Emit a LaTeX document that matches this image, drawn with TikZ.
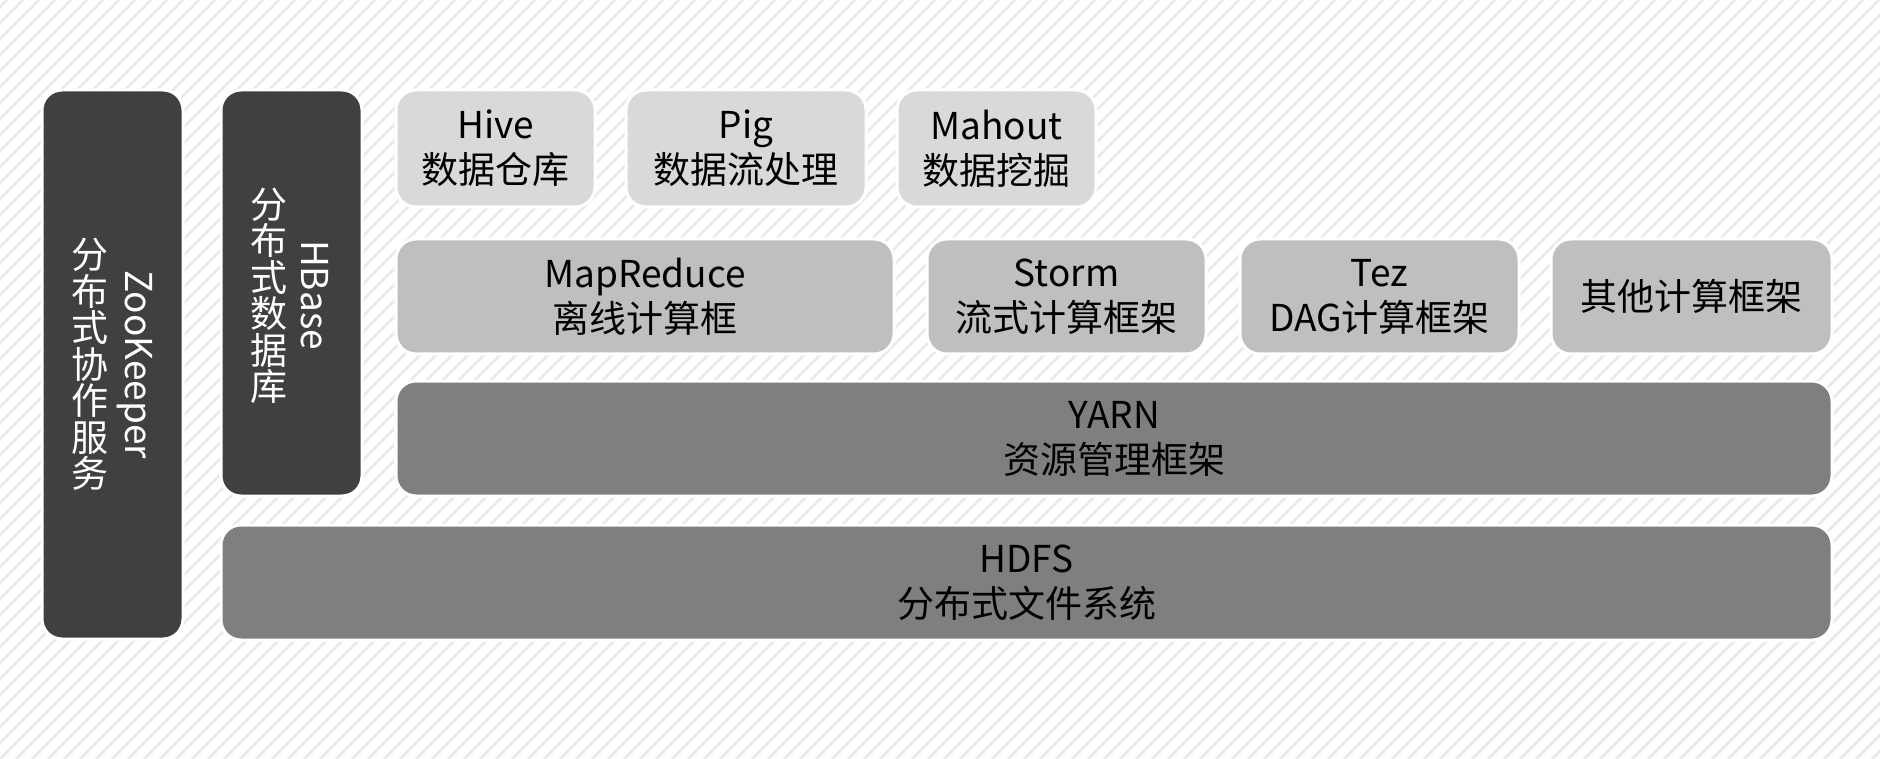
\documentclass[tikz,border=0pt]{standalone}
\usepackage{fontspec}
\setmainfont{Noto Sans CJK SC}
\usepackage{xcolor}
\usepackage{tikz}
\definecolor{darkgrey}{RGB}{64, 64, 64}
\definecolor{midgrey}{RGB}{127, 127, 127}
\definecolor{lightgrey}{RGB}{191, 191, 191}
\definecolor{palegrey}{RGB}{217, 217, 217}
\definecolor{stripegrey}{RGB}{234, 234, 234}
\usetikzlibrary{positioning, calc}

\tikzset{
    layer/.style={draw=white, line width=1.5pt, rounded corners=10pt, inner sep=0pt,
                  align=center, font={\fontsize{18.5}{22.5}\selectfont}},
    darkbox/.style={layer, fill=darkgrey, text=white},
    basebox/.style={layer, fill=midgrey, minimum height=57.5pt},
    enginebox/.style={layer, fill=lightgrey, minimum height=57.5pt, minimum width=139.5pt},
    toolbox/.style={layer, fill=palegrey, minimum height=58.5pt},
    vtext/.style={text=white, inner sep=0pt, font={\fontsize{18.5}{18.25}\selectfont}, align=center}
}

\begin{document}
\begin{tikzpicture}[x=0.5pt, y=-0.5pt]
    % background with thin diagonal stripes
    \fill[white] (0,0) rectangle (1880,759);
    \begin{scope}
        \clip (0,0) rectangle (1880,759);
        \foreach \sx in {-768,-752,...,1880}
            \draw[stripegrey, line width=1.4pt] (\sx,759) -- (\sx+759,0);
    \end{scope}
    \useasboundingbox (0,0) rectangle (1880,759);

    % side columns
    \node[darkbox, minimum width=70.5pt, minimum height=274.5pt] (zookeeper) at (112.5,364.5) {};
    \node[darkbox, minimum width=70.5pt, minimum height=203pt] (hbase) at (291.5,293) {};
    \node[vtext, rotate=-90] (zookeeper name) at ($(zookeeper.center)+(22,0)$) {ZooKeeper};
    \node[vtext] (zookeeper desc) at ($(zookeeper.center)+(-23,0)$) {分\\布\\式\\协\\作\\服\\务};
    \node[vtext, rotate=-90] (hbase name) at ($(hbase.center)+(23,2)$) {HBase};
    \node[vtext] (hbase desc) at ($(hbase.center)+(-23,3)$) {分\\布\\式\\数\\据\\库};

    % storage and resource layers
    \node[basebox, minimum width=805.5pt] (hdfs) at (1026.5,582.5) {HDFS\\分布式文件系统};
    \node[basebox, minimum width=718pt] (yarn) at (1114,438.5) {YARN\\资源管理框架};

    % computing frameworks
    \node[enginebox, minimum width=249pt] (mapreduce) at (645,296.5) {MapReduce\\离线计算框};
    \node[enginebox] (storm) at (1066.5,296.5) {Storm\\流式计算框架};
    \node[enginebox] (tez) at (1379.5,296.5) {Tez\\DAG计算框架};
    \node[enginebox, minimum width=140.5pt] (other) at (1691.5,296.5) {其他计算框架};

    % tools on top
    \node[toolbox, minimum width=99.5pt] (hive) at (495.5,148.5) {Hive\\数据仓库};
    \node[toolbox, minimum width=120pt] (pig) at (746,148.5) {Pig\\数据流处理};
    \node[toolbox, minimum width=99.5pt] (mahout) at (996.5,148.5) {Mahout\\数据挖掘};
\end{tikzpicture}
\end{document}
